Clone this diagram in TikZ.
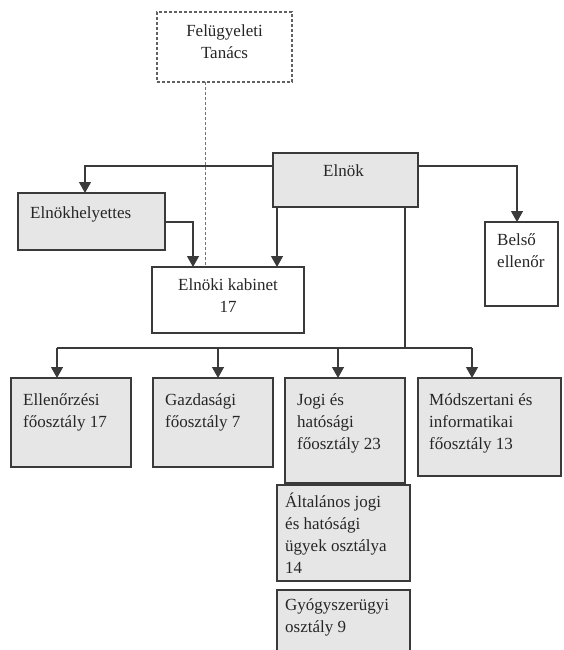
\documentclass[tikz,border=0pt]{standalone}
\usepackage{fontspec}
\setmainfont{Liberation Serif}
\usetikzlibrary{arrows.meta}
\definecolor{boxfill}{HTML}{E6E6E6}
\definecolor{linecol}{HTML}{3A3A3A}
\begin{document}
\begin{tikzpicture}[x=1pt,y=-1pt,
  box/.style={draw=linecol,line width=1.3pt,fill=boxfill,anchor=north west,inner sep=0pt,outer sep=0pt},
  wbox/.style={box,fill=white},
  dbox/.style={draw=linecol!80,line width=1.1pt,dash pattern=on 3pt off 2pt,fill=white,anchor=north west,inner sep=0pt,outer sep=0pt},
  txt/.style={anchor=north west,inner sep=0pt,align=left,font=\fontsize{17}{22}\selectfont,text=black!85},
  ctxt/.style={anchor=north,inner sep=0pt,align=center,font=\fontsize{17}{22}\selectfont,text=black!85},
  conn/.style={draw=linecol,line width=1.3pt},
  arr/.style={conn,-{Triangle[width=12pt,length=11pt]}},
  dline/.style={draw=linecol!70,line width=1pt,dash pattern=on 3pt off 2pt}]
\fill[white] (0,0) rectangle (563,650);
\useasboundingbox (0,0) rectangle (563,650);
\clip (0,0) rectangle (563,650);

% boxes
\node[dbox,minimum width=135pt,minimum height=70pt] (fel) at (157,12) {};
\node[ctxt] (felt) at ([shift={(0,13)}]fel.north) {Felügyeleti\\Tanács};

\node[box,minimum width=145pt,minimum height=54pt] (elnok) at (273,153) {};
\node[ctxt] (elnokt) at ([shift={(-2,12)}]elnok.north) {Elnök};

\node[box,minimum width=147pt,minimum height=57pt] (hely) at (18,193) {};
\node[txt] (helyt) at ([shift={(12,14)}]hely.north west) {Elnökhelyettes};

\node[wbox,minimum width=152pt,minimum height=66pt] (kab) at (152,267) {};
\node[ctxt] (kabt) at ([shift={(0,12)}]kab.north) {Elnöki kabinet\\17};

\node[wbox,minimum width=73pt,minimum height=84pt] (bel) at (485,222) {};
\node[txt] (belt) at ([shift={(12,11)}]bel.north west) {Belső\\ellenőr};

\node[box,minimum width=120pt,minimum height=89pt] (ell) at (11,378) {};
\node[txt] (ellt) at ([shift={(12,15)}]ell.north west) {Ellenőrzési\\főosztály 17};

\node[box,minimum width=120pt,minimum height=89pt] (gaz) at (153,378) {};
\node[txt] (gazt) at ([shift={(12,15)}]gaz.north west) {Gazdasági\\főosztály 7};

\node[box,minimum width=120pt,minimum height=105pt] (jog) at (285,378) {};
\node[txt] (jogt) at ([shift={(12,15)}]jog.north west) {Jogi és\\hatósági\\főosztály 23};

\node[box,minimum width=143pt,minimum height=98pt] (mod) at (418,378) {};
\node[txt] (modt) at ([shift={(11,15)}]mod.north west) {Módszertani és\\informatikai\\főosztály 13};

\node[box,minimum width=133pt,minimum height=96pt] (alt) at (277,485) {};
\node[txt] (altt) at ([shift={(8,8)}]alt.north west) {Általános jogi\\és hatósági\\ügyek osztálya\\14};

\node[box,minimum width=133pt,minimum height=70pt] (gyo) at (277,590) {};
\node[txt] (gyot) at ([shift={(8,8)}]gyo.north west) {Gyógyszerügyi\\osztály 9};

% helper coordinates
\coordinate (ya) at (0,166);
\coordinate (yb) at (0,222);
\coordinate (bus) at (0,348);
\coordinate (xa) at (85,0);
\coordinate (xb) at (193,0);
\coordinate (xc) at (277,0);
\coordinate (xd) at (517,0);
\coordinate (xe) at (405,0);
\coordinate (xdash) at (205,0);
\coordinate (x1) at (57,0);
\coordinate (x2) at (218,0);
\coordinate (x3) at (338,0);
\coordinate (x4) at (472,0);

% connectors
\draw[dline] (fel.south -| xdash) -- (kab.north -| xdash);
\draw[arr] (elnok.west |- ya) -| (hely.north -| xa);
\draw[arr] (hely.east |- yb) -| (kab.north -| xb);
\draw[arr] (elnok.south -| xc) -- (kab.north -| xc);
\draw[arr] (elnok.east |- ya) -| (bel.north -| xd);
\draw[conn] (elnok.south -| xe) -- (bus -| xe);
\draw[conn] (bus -| x1) -- (bus -| x4);
\draw[arr] (bus -| x1) -- (ell.north -| x1);
\draw[arr] (bus -| x2) -- (gaz.north -| x2);
\draw[arr] (bus -| x3) -- (jog.north -| x3);
\draw[arr] (bus -| x4) -- (mod.north -| x4);
\end{tikzpicture}
\end{document}
